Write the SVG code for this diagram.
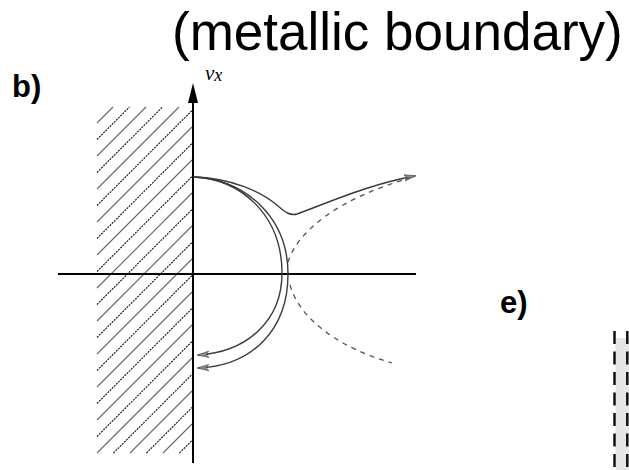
<svg xmlns="http://www.w3.org/2000/svg" width="629" height="470" viewBox="0 0 629 470">
<style>
.sans{font-family:"Liberation Sans",Arial,sans-serif;fill:#000}
.lbl{font-weight:bold;font-size:31px}
.h1{stroke:#111;stroke-width:1.1;stroke-dasharray:2 1}
.h2{stroke:#666;stroke-width:1.1}
.ax{stroke:#000;stroke-width:2;fill:none}
.tr{stroke:#3a3a3a;stroke-width:1.4;fill:none}
.ds{stroke:#555;stroke-width:1.3;fill:none;stroke-dasharray:5 5}
.ed{stroke:#111;stroke-width:2.5;stroke-dasharray:13 7.5}
</style>
<defs>
<marker id="ah" viewBox="0 0 12 8" refX="11" refY="4" markerWidth="12" markerHeight="8" markerUnits="userSpaceOnUse" orient="auto">
<path d="M0,0.8 L12,4 L0,7.2 L3,4 Z" fill="#888" stroke="#444" stroke-width="0.6"/>
</marker>
</defs>
<rect width="629" height="470" fill="#fff"/>
<g id="title"><text class="sans" x="172" y="50" font-size="53">(metallic boundary)</text></g>
<g id="label-b"><text class="sans lbl" x="12" y="97">b)</text></g>
<g id="label-vx"><text x="205" y="80" font-family="'Liberation Serif','Times New Roman',serif" font-style="italic" font-size="21">v<tspan font-size="18" dy="1">x</tspan></text></g>
<g id="hatch">
<line class="h2" x1="97" y1="123" x2="113" y2="107"/>
<line class="h1" x1="97" y1="139.5" x2="129.5" y2="107"/>
<line class="h2" x1="97" y1="156" x2="146" y2="107"/>
<line class="h1" x1="97" y1="172.5" x2="162.5" y2="107"/>
<line class="h2" x1="97" y1="189" x2="179" y2="107"/>
<line class="h1" x1="97" y1="205.5" x2="192" y2="110.5"/>
<line class="h2" x1="97" y1="222" x2="192" y2="127"/>
<line class="h1" x1="97" y1="238.5" x2="192" y2="143.5"/>
<line class="h2" x1="97" y1="255" x2="192" y2="160"/>
<line class="h1" x1="97" y1="271.5" x2="192" y2="176.5"/>
<line class="h2" x1="97" y1="288" x2="192" y2="193"/>
<line class="h1" x1="97" y1="304.5" x2="192" y2="209.5"/>
<line class="h2" x1="97" y1="321" x2="192" y2="226"/>
<line class="h1" x1="97" y1="337.5" x2="192" y2="242.5"/>
<line class="h2" x1="97" y1="354" x2="192" y2="259"/>
<line class="h1" x1="97" y1="370.5" x2="192" y2="275.5"/>
<line class="h2" x1="97" y1="387" x2="192" y2="292"/>
<line class="h1" x1="97" y1="403.5" x2="192" y2="308.5"/>
<line class="h2" x1="97" y1="420" x2="192" y2="325"/>
<line class="h1" x1="97" y1="436.5" x2="192" y2="341.5"/>
<line class="h2" x1="97" y1="453" x2="192" y2="358"/>
<line class="h1" x1="113.5" y1="453" x2="192" y2="374.5"/>
<line class="h2" x1="130" y1="453" x2="192" y2="391"/>
<line class="h1" x1="146.5" y1="453" x2="192" y2="407.5"/>
<line class="h2" x1="163" y1="453" x2="192" y2="424"/>
<line class="h1" x1="179.5" y1="453" x2="192" y2="440.5"/>
</g>
<g id="axes">
<line class="ax" x1="58" y1="274" x2="416" y2="274"/>
<line class="ax" x1="193" y1="463" x2="193" y2="100"/>
<polygon points="193,83 188,103 198,103" fill="#000"/>
</g>
<g id="connectors">
<path class="tr" d="M193,177 C240,178 282,215 282,273 C282,320 248,352 198,355" marker-end="url(#ah)"/>
<path class="tr" d="M193,177 C244,179 288,216 288,274 C288,330 252,366 198,368" marker-end="url(#ah)"/>
<path class="tr" d="M193,177 C232,178 262,192 278,206 C285,212 290,216 297,214 C330,202 370,184 415,176" marker-end="url(#ah)"/>
<path class="ds" d="M288,262 C298,230 340,198 410,178"/>
<path class="ds" d="M290,285 C300,320 340,348 392,363"/>
</g>
<g id="label-e"><text class="sans lbl" x="500" y="313">e)</text></g>
<g id="panel-e">
<rect x="615.5" y="338" width="13.5" height="132" fill="#e6e6e6"/>
<line class="ed" x1="614.5" y1="331" x2="614.5" y2="470"/>
<line class="ed" x1="627.3" y1="331" x2="627.3" y2="470"/>
</g>
</svg>
